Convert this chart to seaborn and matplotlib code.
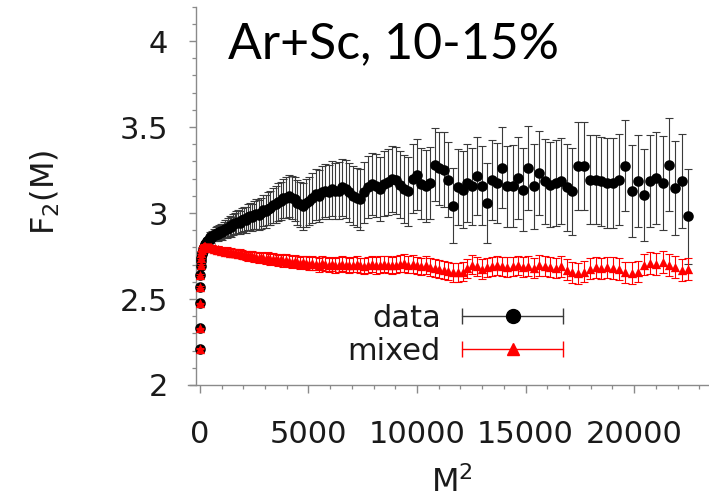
import numpy as np
import pandas as pd
import matplotlib
matplotlib.use("Agg")
import matplotlib.pyplot as plt
from matplotlib.lines import Line2D
from matplotlib.legend_handler import HandlerLine2D, HandlerTuple
from matplotlib.ticker import MultipleLocator, FixedLocator, FixedFormatter
import seaborn as sns

# ---------------- data ----------------
M = np.arange(1, 151)          # bin number M, plotted against M^2
M2 = M ** 2

data_F2 = [
    2.21, 2.33, 2.475, 2.57, 2.64, 2.69, 2.72, 2.74, 2.76, 2.77,
    2.78, 2.79, 2.80, 2.805, 2.815, 2.82, 2.825, 2.835, 2.84, 2.845,
    2.85, 2.86, 2.855, 2.865, 2.875, 2.87, 2.88, 2.885, 2.88, 2.89,
    2.895, 2.89, 2.90, 2.91, 2.905, 2.915, 2.925, 2.92, 2.935, 2.94,
    2.945, 2.95, 2.945, 2.96, 2.965, 2.96, 2.975, 2.98, 2.975, 2.99,
    2.995, 2.99, 3.00, 3.015, 3.01, 3.025, 3.03, 3.045, 3.05, 3.065,
    3.07, 3.085, 3.09, 3.10, 3.09, 3.08, 3.06, 3.05, 3.04, 3.06,
    3.07, 3.09, 3.11, 3.10, 3.12, 3.13, 3.12, 3.14, 3.13, 3.13,
    3.15, 3.14, 3.12, 3.10, 3.09, 3.08, 3.12, 3.15, 3.17, 3.16,
    3.14, 3.17, 3.18, 3.20, 3.19, 3.165, 3.14, 3.126, 3.20, 3.224,
    3.17, 3.156, 3.175, 3.282, 3.26, 3.253, 3.195, 3.043, 3.15, 3.136,
    3.175, 3.155, 3.214, 3.16, 3.059, 3.194, 3.175, 3.263, 3.155, 3.155,
    3.204, 3.136, 3.262, 3.155, 3.233, 3.185, 3.165, 3.175, 3.185, 3.15,
    3.127, 3.272, 3.272, 3.194, 3.194, 3.185, 3.175, 3.175, 3.194, 3.276,
    3.127, 3.185, 3.107, 3.185, 3.204, 3.175, 3.282, 3.146, 3.185, 2.98,
]
data_err = [
    0.004, 0.005, 0.006, 0.007, 0.008, 0.009, 0.010, 0.011, 0.012, 0.013,
    0.014, 0.015, 0.016, 0.017, 0.018, 0.019, 0.020, 0.021, 0.022, 0.023,
    0.025, 0.027, 0.028, 0.030, 0.032, 0.034, 0.036, 0.038, 0.040, 0.042,
    0.044, 0.046, 0.048, 0.050, 0.052, 0.054, 0.056, 0.058, 0.060, 0.062,
    0.064, 0.066, 0.068, 0.070, 0.072, 0.074, 0.076, 0.078, 0.080, 0.082,
    0.085, 0.087, 0.090, 0.092, 0.095, 0.097, 0.100, 0.103, 0.106, 0.109,
    0.112, 0.115, 0.118, 0.121, 0.124, 0.127, 0.130, 0.133, 0.136, 0.139,
    0.142, 0.145, 0.148, 0.150, 0.152, 0.155, 0.157, 0.160, 0.162, 0.164,
    0.166, 0.168, 0.170, 0.172, 0.174, 0.176, 0.178, 0.180, 0.182, 0.184,
    0.186, 0.188, 0.190, 0.192, 0.194, 0.196, 0.198, 0.200, 0.202, 0.204,
    0.206, 0.208, 0.210, 0.212, 0.214, 0.216, 0.218, 0.219, 0.221, 0.223,
    0.225, 0.226, 0.228, 0.230, 0.231, 0.233, 0.234, 0.236, 0.237, 0.239,
    0.240, 0.242, 0.243, 0.245, 0.246, 0.247, 0.249, 0.250, 0.251, 0.253,
    0.254, 0.255, 0.256, 0.258, 0.259, 0.260, 0.261, 0.262, 0.264, 0.265,
    0.266, 0.267, 0.268, 0.269, 0.270, 0.271, 0.272, 0.273, 0.274, 0.275,
]
mixed_F2 = [
    2.21, 2.33, 2.475, 2.57, 2.64, 2.70, 2.74, 2.77, 2.785, 2.795,
    2.80, 2.805, 2.805, 2.81, 2.805, 2.81, 2.805, 2.80, 2.805, 2.80,
    2.80, 2.795, 2.80, 2.795, 2.79, 2.795, 2.79, 2.785, 2.79, 2.785,
    2.78, 2.785, 2.78, 2.775, 2.78, 2.775, 2.77, 2.775, 2.77, 2.765,
    2.765, 2.76, 2.765, 2.76, 2.755, 2.755, 2.75, 2.755, 2.75, 2.745,
    2.745, 2.74, 2.745, 2.74, 2.735, 2.74, 2.73, 2.735, 2.73, 2.725,
    2.73, 2.72, 2.725, 2.72, 2.715, 2.72, 2.715, 2.71, 2.715, 2.71,
    2.705, 2.71, 2.705, 2.70, 2.71, 2.705, 2.70, 2.705, 2.695, 2.70,
    2.705, 2.70, 2.695, 2.70, 2.705, 2.695, 2.69, 2.70, 2.705, 2.695,
    2.70, 2.705, 2.70, 2.695, 2.70, 2.705, 2.71, 2.70, 2.705, 2.695,
    2.69, 2.70, 2.685, 2.68, 2.675, 2.67, 2.665, 2.655, 2.655, 2.66,
    2.68, 2.70, 2.69, 2.675, 2.685, 2.69, 2.695, 2.69, 2.685, 2.69,
    2.695, 2.685, 2.69, 2.68, 2.695, 2.69, 2.685, 2.68, 2.69, 2.67,
    2.655, 2.65, 2.66, 2.675, 2.685, 2.68, 2.685, 2.68, 2.675, 2.655,
    2.65, 2.66, 2.70, 2.71, 2.705, 2.715, 2.70, 2.685, 2.67, 2.675,
]
mixed_err = [
    0.003, 0.004, 0.004, 0.005, 0.005, 0.006, 0.006, 0.007, 0.007, 0.008,
    0.008, 0.009, 0.009, 0.010, 0.010, 0.011, 0.011, 0.012, 0.012, 0.013,
    0.013, 0.014, 0.014, 0.015, 0.015, 0.016, 0.016, 0.017, 0.017, 0.018,
    0.018, 0.019, 0.019, 0.020, 0.020, 0.021, 0.021, 0.022, 0.022, 0.023,
    0.023, 0.024, 0.024, 0.025, 0.025, 0.026, 0.026, 0.027, 0.027, 0.028,
    0.028, 0.029, 0.029, 0.030, 0.030, 0.031, 0.031, 0.032, 0.032, 0.033,
    0.033, 0.034, 0.034, 0.035, 0.035, 0.036, 0.036, 0.037, 0.037, 0.038,
    0.038, 0.039, 0.039, 0.040, 0.040, 0.041, 0.041, 0.042, 0.042, 0.043,
    0.043, 0.044, 0.044, 0.045, 0.045, 0.046, 0.046, 0.047, 0.047, 0.047,
    0.048, 0.048, 0.049, 0.049, 0.049, 0.050, 0.050, 0.050, 0.051, 0.051,
    0.051, 0.052, 0.052, 0.052, 0.053, 0.053, 0.053, 0.054, 0.054, 0.054,
    0.055, 0.055, 0.055, 0.056, 0.056, 0.056, 0.056, 0.057, 0.057, 0.057,
    0.058, 0.058, 0.058, 0.058, 0.059, 0.059, 0.059, 0.059, 0.060, 0.060,
    0.060, 0.060, 0.061, 0.061, 0.061, 0.061, 0.062, 0.062, 0.062, 0.062,
    0.063, 0.063, 0.063, 0.063, 0.064, 0.064, 0.064, 0.064, 0.065, 0.065,
]

x_ticks = [0, 5000, 10000, 15000, 20000]
x_tick_labels = ["0", "5000", "10000", "15000", "20000"]
y_ticks = [2, 2.5, 3, 3.5, 4]
y_tick_labels = ["2", "2.5", "3", "3.5", "4"]
series_labels = ["data", "mixed"]
title_text = "Ar+Sc, 10-15%"

df = pd.DataFrame({"M2": M2, "data": data_F2, "data_err": data_err,
                   "mixed": mixed_F2, "mixed_err": mixed_err})

# ---------------- style ----------------
sns.set_theme(style="ticks")
plt.rcParams["font.family"] = ["DejaVu Sans"]
plt.rcParams["mathtext.fontset"] = "dejavusans"

W, H = 709, 504
fig = plt.figure(figsize=(W / 100, H / 100), dpi=100)
ax_left, ax_right, ax_bottom, ax_top = 188, 709, 385, 6.7
ax = fig.add_axes([ax_left / W, (H - ax_bottom) / H,
                   (ax_right - ax_left) / W, (ax_bottom - ax_top) / H])

BLACK = "#000000"
RED = "#ff0000"
GREY = "#8a8a8a"

# data (black circles)
ax.errorbar(df["M2"], df["data"], yerr=df["data_err"], fmt="none",
            ecolor="#3a3a3a", elinewidth=0.8, capsize=3, capthick=0.8, zorder=2)
sns.scatterplot(data=df, x="M2", y="data", ax=ax, color=BLACK, marker="o",
                s=58, linewidth=0, legend=False, zorder=3)
# mixed (red triangles)
ax.errorbar(df["M2"], df["mixed"], yerr=df["mixed_err"], fmt="none",
            ecolor=RED, elinewidth=0.8, capsize=3, capthick=0.8, zorder=4)
sns.scatterplot(data=df, x="M2", y="mixed", ax=ax, color=RED, marker="^",
                s=45, linewidth=0, legend=False, zorder=5)

ax.set_xlim(-550, 23450)
ax.set_ylim(2, 4.2)

for s in ["top", "right"]:
    ax.spines[s].set_visible(False)
ax.spines["left"].set_position(("data", -200))
for s in ["left", "bottom"]:
    ax.spines[s].set_color(GREY)
    ax.spines[s].set_linewidth(1.0)

ax.xaxis.set_major_locator(FixedLocator(x_ticks))
ax.xaxis.set_major_formatter(FixedFormatter(x_tick_labels))
ax.yaxis.set_major_locator(FixedLocator(y_ticks))
ax.yaxis.set_major_formatter(FixedFormatter(y_tick_labels))
ax.xaxis.set_minor_locator(MultipleLocator(1000))
ax.yaxis.set_minor_locator(MultipleLocator(0.1))

ax.tick_params(axis="both", which="major", direction="out", color=GREY,
               width=1.0, labelsize=22, labelcolor="#1a1a1a")
ax.tick_params(axis="x", which="major", length=6, pad=19)
ax.tick_params(axis="y", which="major", length=5, pad=15)
ax.tick_params(axis="both", which="minor", direction="out", color=GREY,
               width=0.9, length=3)

ax.set_xlabel(r"M$^2$", fontsize=23, color="#1a1a1a")
ax.set_ylabel(r"F$_2$(M)", fontsize=23, color="#1a1a1a")
ax.xaxis.set_label_coords((452 - ax_left) / (ax_right - ax_left),
                          (ax_bottom - 466) / (ax_bottom - ax_top))
ax.yaxis.set_label_coords((62 - ax_left) / (ax_right - ax_left),
                          (ax_bottom - 192) / (ax_bottom - ax_top))

ax.text((228 - ax_left) / (ax_right - ax_left),
        (ax_bottom - 58) / (ax_bottom - ax_top), title_text,
        transform=ax.transAxes, fontsize=36, family=["Lato", "DejaVu Sans"],
        ha="left", va="baseline", color="black")

# legend: horizontal bar with end caps and marker in the middle
caps_d = Line2D([], [], color="#3a3a3a", lw=1.0, marker="|", markersize=12,
                markeredgewidth=1.0)
mark_d = Line2D([], [], color=BLACK, marker="o", markersize=10, linestyle="none")
caps_m = Line2D([], [], color=RED, lw=1.0, marker="|", markersize=12,
                markeredgewidth=1.0)
mark_m = Line2D([], [], color=RED, marker="^", markersize=8, linestyle="none")
hmap = {caps_d: HandlerLine2D(numpoints=2, marker_pad=0),
        caps_m: HandlerLine2D(numpoints=2, marker_pad=0),
        tuple: HandlerTuple(ndivide=1, pad=0)}
leg = fig.legend([(caps_d, mark_d), (caps_m, mark_m)], series_labels,
                 handler_map=hmap, loc="center right",
                 bbox_to_anchor=(563 / W, (H - 335) / H),
                 frameon=False, markerfirst=False, fontsize=22,
                 handlelength=3.3, handletextpad=0.7, labelspacing=0.12,
                 borderpad=0, borderaxespad=0)
for t in leg.get_texts():
    t.set_color("#1a1a1a")

fig.savefig("out.png", dpi=100)
